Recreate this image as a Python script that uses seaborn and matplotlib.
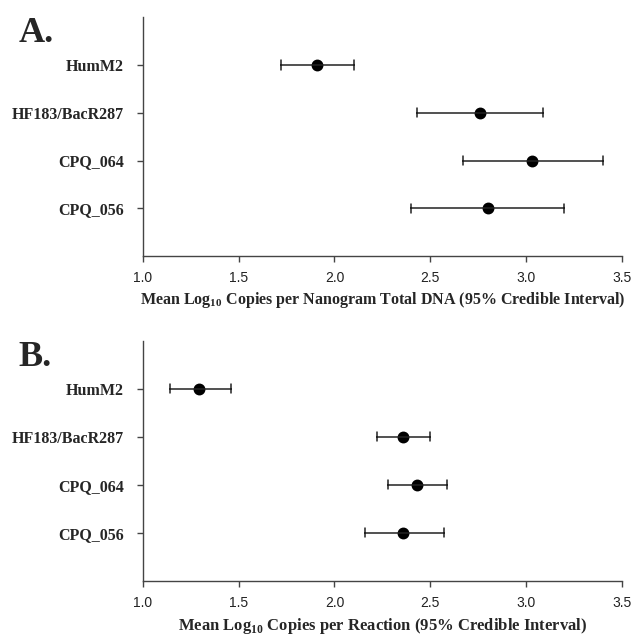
import matplotlib
matplotlib.use("Agg")
import matplotlib.pyplot as plt
import seaborn as sns
import pandas as pd

markers = ["HumM2", "HF183/BacR287", "CPQ_064", "CPQ_056"]

# panel A: copies per nanogram total DNA
a_mean = [1.91, 2.76, 3.03, 2.80]
a_low = [1.72, 2.43, 2.67, 2.40]
a_high = [2.10, 3.09, 3.40, 3.20]

# panel B: copies per reaction
b_mean = [1.29, 2.36, 2.43, 2.36]
b_low = [1.14, 2.22, 2.28, 2.16]
b_high = [1.46, 2.50, 2.59, 2.57]

xticks = [1.0, 1.5, 2.0, 2.5, 3.0, 3.5]

sns.set_style("white")
plt.rcParams["mathtext.fontset"] = "custom"
plt.rcParams["mathtext.rm"] = "Liberation Serif:bold"
plt.rcParams["mathtext.bf"] = "Liberation Serif:bold"
plt.rcParams["font.family"] = ["Liberation Sans", "DejaVu Sans"]


def long_table(mean, low, high):
    rows = []
    for m, c, lo, hi in zip(markers, mean, low, high):
        for v in (lo, c, hi):
            rows.append({"marker": m, "value": v})
    return pd.DataFrame(rows)


def draw_panel(ax, mean, low, high, xlabel, letter, label_size, label_pad):
    df = long_table(mean, low, high)
    # median of (low, mean, high) is the mean; min/max give the interval
    sns.pointplot(data=df, x="value", y="marker", order=markers,
                  estimator="median", errorbar=lambda v: (v.min(), v.max()),
                  linestyle="none", color="black", markers="o",
                  markersize=6.5, capsize=0.19,
                  err_kws={"linewidth": 1.1, "color": "#222222"}, ax=ax)
    ax.set_xlim(1.0, 3.5)
    ax.set_ylim(4, -1)
    ax.set_xticks(xticks)
    ax.set_xticklabels([f"{t:.1f}" for t in xticks], fontsize=10,
                       family="Liberation Sans", color="#222222")
    ax.set_yticks(range(len(markers)))
    ax.set_yticklabels(markers, fontsize=11.5, family="Liberation Serif",
                       fontweight="bold")
    ax.set_ylabel("")
    ax.set_xlabel(xlabel, fontsize=label_size, family="Liberation Serif",
                  fontweight="bold", labelpad=label_pad)
    for s in ["top", "right"]:
        ax.spines[s].set_visible(False)
    for s in ["left", "bottom"]:
        ax.spines[s].set_color("#444444")
        ax.spines[s].set_linewidth(1.0)
    ax.tick_params(axis="both", direction="out", length=4, width=1,
                   color="#444444", bottom=True, left=True)
    ax.tick_params(axis="x", pad=7)
    ax.tick_params(axis="y", pad=10)
    ax.grid(False)
    ax.text(-0.26, 1.0, letter, transform=ax.transAxes, fontsize=26,
            family="Liberation Serif", fontweight="bold", va="top", ha="left")


fig = plt.figure(figsize=(6.34, 6.37), dpi=100)
ax1 = fig.add_axes([0.2256, 0.598, 0.755, 0.375])
ax2 = fig.add_axes([0.2256, 0.088, 0.755, 0.377])

draw_panel(ax1, a_mean, a_low, a_high,
           "Mean Log$_{10}$ Copies per Nanogram Total DNA (95% Credible Interval)",
           "A.", 11.5, 3)
draw_panel(ax2, b_mean, b_low, b_high,
           "Mean Log$_{10}$ Copies per Reaction (95% Credible Interval)",
           "B.", 12, 4.5)

fig.savefig("out.png", dpi=100)
